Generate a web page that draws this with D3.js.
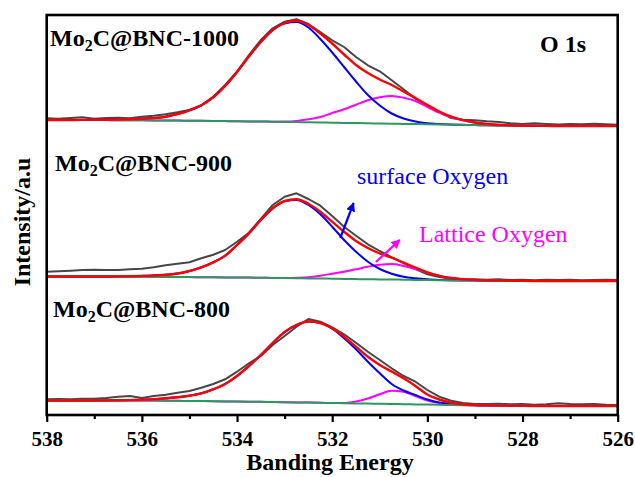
<!DOCTYPE html>
<html>
<head>
<meta charset="utf-8">
<script src="https://cdn.jsdelivr.net/npm/d3@7"></script>
<style>
  html, body { margin: 0; padding: 0; background: #ffffff; }
  svg { display: block; }
  text { font-family: "Liberation Serif", "Times New Roman", serif; }
</style>
</head>
<body>
<svg id="chart" width="635" height="477"></svg>
<script>
// Binding energy grid (eV), shared by every curve
const energy = [538, 537.75, 537.5, 537.25, 537, 536.75, 536.5, 536.25, 536, 535.75, 535.5, 535.25,
  535, 534.75, 534.5, 534.25, 534, 533.75, 533.5, 533.25, 533, 532.75, 532.5, 532.25,
  532, 531.75, 531.5, 531.25, 531, 530.75, 530.5, 530.25, 530, 529.75, 529.5, 529.25,
  529, 528.75, 528.5, 528.25, 528, 527.75, 527.5, 527.25, 527, 526.75, 526.5, 526.25, 526];

// Sample names and their vertical stacking offsets (a.u.)
const samples = ["1000", "900", "800"];
const stackOffsets = [289, 134, 9];

// ---- Mo2C@BNC-1000 ----
const raw1000 = [7.7, 7.3, 8, 8.7, 7.3, 8, 8.3, 7.7, 9.3, 10.3, 11.7, 13.7, 16, 20.7, 29.3, 41, 54.3, 71, 86, 97.7,
  104.3, 106.7, 102, 94, 85.7, 79, 69, 60.7, 54.7, 45.7, 36.7, 27.3, 20.7, 14, 8, 6.3, 5.7, 4.7, 4, 2.7,
  2, 2.7, 2, 1.5, 2, 1.7, 2.3, 1.7, 1.3];
const env1000 = [6, 6, 6, 6.1, 6.2, 6.3, 6.5, 6.8, 7.2, 7.9, 9.3, 12, 15.7, 20.7, 28.7, 40, 54, 69.5, 84, 96,
  103, 105.3, 101, 92.5, 82.5, 71.5, 61, 53, 46.5, 41, 34.5, 28, 21, 14.5, 9.3, 5.8, 3.5, 2, 1.1, 0.6,
  0.3, 0.2, 0.1, 0, 0, 0, 0, 0, 0];
const surf1000 = [6, 6, 6, 6.1, 6.2, 6.3, 6.5, 6.8, 7.2, 7.9, 9.3, 12, 15.7, 20.7, 28.7, 40, 54, 69.5, 84, 96,
  102.5, 104, 98.5, 87, 73.5, 59, 44.5, 31, 20.5, 12.5, 7.5, 4.5, 2.8, 2, 1.5, 1.2, 0.9, 0.7, 0.5, 0.4,
  0.3, 0.2, 0.1, 0, 0, 0, 0, 0, 0];
const latt1000 = [6, 6, 6, 6, 5.9, 5.9, 5.8, 5.8, 5.7, 5.6, 5.5, 5.4, 5.3, 5.2, 5, 4.9, 4.8, 4.6, 4.5, 4.3,
  4.4, 5, 6.7, 9, 13, 16.7, 21.3, 25.7, 28.7, 30, 28.3, 25, 19, 13.3, 8.8, 5.6, 3.3, 2, 1.2, 0.7,
  0.4, 0.2, 0.1, 0, 0, 0, 0, 0, 0];
const bg1000 = [6, 6, 6, 6, 5.9, 5.9, 5.8, 5.8, 5.7, 5.6, 5.5, 5.4, 5.3, 5.2, 5, 4.9, 4.8, 4.6, 4.5, 4.3,
  4.1, 3.9, 3.7, 3.5, 3.3, 3.1, 2.9, 2.7, 2.5, 2.3, 2.1, 1.9, 1.7, 1.5, 1.3, 1.1, 0.9, 0.7, 0.5, 0.4,
  0.3, 0.2, 0.1, 0, 0, 0, 0, 0, 0];

// ---- Mo2C@BNC-900 ----
const raw900 = [9.3, 9.7, 10.3, 11, 11.3, 11, 11, 11.7, 12.3, 13.8, 15.7, 17.3, 18.7, 22.7, 26.3, 31, 39.3, 48.3, 62, 76,
  84.3, 87.7, 82, 75.3, 65, 54.3, 45.3, 36.7, 30, 23.7, 18, 12, 6.7, 4, 2.3, 1.3, 1.7, 1.3, 1.7, 1,
  1.3, 0.7, 1.3, 1, 1.3, 0.7, 1, 1.3, 1];
const env900 = [4.5, 4.5, 4.5, 4.5, 4.5, 4.5, 4.6, 4.8, 5.1, 5.5, 6.2, 7.5, 10, 13.7, 18.7, 25.3, 36, 47.7, 61, 72.7,
  80, 81.8, 77.3, 69.3, 59.3, 49.3, 40, 33, 27.5, 23.3, 18.3, 13.3, 8.7, 5.2, 3, 1.8, 1.1, 0.7, 0.4, 0.2,
  0.1, 0, 0, 0, 0, 0, 0, 0, 0];
const surf900 = [4.5, 4.5, 4.5, 4.5, 4.5, 4.5, 4.6, 4.8, 5.1, 5.5, 6.2, 7.5, 10, 13.7, 18.7, 25.3, 36, 47.7, 61, 72.5,
  79.6, 81, 76, 66.7, 54.3, 41, 29.3, 19.3, 12, 7.3, 4.3, 2.7, 1.7, 1.1, 0.7, 0.5, 0.4, 0.3, 0.2, 0.1,
  0, 0, 0, 0, 0, 0, 0, 0, 0];
const latt900 = [4.5, 4.5, 4.5, 4.5, 4.4, 4.4, 4.4, 4.3, 4.3, 4.2, 4.1, 4, 3.9, 3.8, 3.7, 3.6, 3.5, 3.4, 3.3, 3.1,
  3, 3.2, 3.7, 5.3, 7.3, 9.3, 11.7, 14.3, 16.3, 16.9, 15, 12, 8.3, 5.3, 3, 1.8, 1, 0.6, 0.3, 0.1,
  0, 0, 0, 0, 0, 0, 0, 0, 0];
const bg900 = [4.5, 4.5, 4.5, 4.5, 4.4, 4.4, 4.4, 4.3, 4.3, 4.2, 4.1, 4, 3.9, 3.8, 3.7, 3.6, 3.5, 3.4, 3.3, 3.1,
  3, 2.8, 2.6, 2.5, 2.3, 2.1, 1.9, 1.8, 1.6, 1.5, 1.3, 1.1, 1, 0.8, 0.6, 0.5, 0.4, 0.3, 0.2, 0.1,
  0, 0, 0, 0, 0, 0, 0, 0, 0];

// ---- Mo2C@BNC-800 ----
const raw800 = [6.7, 7, 6.7, 7.3, 7.3, 8, 9.3, 10, 8, 10, 11.3, 13.3, 15, 18.3, 22, 26.7, 34.3, 42.7, 50, 61,
  70, 79.3, 87, 84.3, 78.7, 71.7, 63.3, 54.3, 46, 37.7, 30, 24.3, 16, 9.3, 5.3, 3, 2, 2, 2.3, 1.7,
  2, 1.3, 1.7, 2.7, 2, 1.7, 2, 1.3, 1];
const env800 = [5.5, 5.5, 5.5, 5.5, 5.5, 5.6, 5.7, 5.9, 6.3, 6.8, 7.7, 8.7, 10.3, 12.7, 16.7, 22, 30, 40, 51, 63,
  74, 81, 84.5, 83, 77.7, 69.3, 59.3, 49.3, 41, 34.5, 27.7, 20, 11.5, 6.5, 3.3, 1.8, 1, 0.6, 0.4, 0.2,
  0.1, 0, 0, 0, 0, 0, 0, 0, 0];
const surf800 = [5.5, 5.5, 5.5, 5.5, 5.5, 5.6, 5.7, 5.9, 6.3, 6.8, 7.7, 8.7, 10.3, 12.7, 16.7, 22, 30, 40, 51, 63,
  74, 81, 84.5, 83, 77.3, 67.7, 56.7, 44.3, 32.7, 22, 15.5, 11, 6.5, 3.5, 2, 1.2, 0.8, 0.6, 0.4, 0.3,
  0.2, 0.1, 0, 0, 0, 0, 0, 0, 0];
const latt800 = [5.5, 5.5, 5.5, 5.5, 5.5, 5.5, 5.5, 5.5, 5.5, 5.4, 5.3, 5.2, 5, 4.9, 4.8, 4.6, 4.5, 4.3, 4.2, 4,
  3.8, 3.6, 3.4, 3.2, 3, 3, 4.5, 7.5, 11.8, 15.2, 14.2, 10, 5.5, 3, 1.6, 1, 0.7, 0.5, 0.4, 0.3,
  0.2, 0.1, 0, 0, 0, 0, 0, 0, 0];
const bg800 = [5.5, 5.5, 5.5, 5.5, 5.5, 5.5, 5.5, 5.5, 5.5, 5.4, 5.3, 5.2, 5, 4.9, 4.8, 4.6, 4.5, 4.3, 4.2, 4,
  3.8, 3.6, 3.4, 3.2, 3, 2.8, 2.6, 2.4, 2.2, 2, 1.8, 1.6, 1.4, 1.2, 1, 0.8, 0.7, 0.5, 0.4, 0.3,
  0.2, 0.1, 0.05, 0, 0, 0, 0, 0, 0];

// Axis ticks
const majorTicks = [538, 536, 534, 532, 530, 528, 526];
const minorTicks = [537, 535, 533, 531, 529, 527];

// Annotation arrows: [E start, a.u. start, E tip, a.u. tip]
const surfaceArrow = [531.83, 177, 531.55, 212];
const latticeArrow = [531.08, 153, 530.58, 175];

const spectra = [
  { name: "1000", raw: raw1000, env: env1000, surf: surf1000, latt: latt1000, bg: bg1000 },
  { name: "900",  raw: raw900,  env: env900,  surf: surf900,  latt: latt900,  bg: bg900 },
  { name: "800",  raw: raw800,  env: env800,  surf: surf800,  latt: latt800,  bg: bg800 }
];

const colors = { raw: "#474747", env: "#ff0000", surf: "#0000ff", latt: "#ff00ff", bg: "#2a9a5c" };
const serif = '"Liberation Serif", "Times New Roman", serif';

const svg = d3.select("#chart");
const plot = { left: 46.7, right: 617.7, top: 15, bottom: 415 };

const x = d3.scaleLinear().domain([538, 526]).range([plot.left, plot.right]);
const y = d3.scaleLinear().domain([0, 400]).range([plot.bottom, plot.top]);

const g = svg.append("g");

spectra.forEach((s, i) => {
  const off = stackOffsets[i];
  const mk = (curve) => d3.line()
    .x((d, k) => x(energy[k]))
    .y(d => y(d + off))
    .curve(curve);
  const smooth = mk(d3.curveMonotoneX);
  const jagged = mk(d3.curveLinear);

  // measured spectrum first, then fit components, background, envelope on top
  g.append("path").attr("d", jagged(s.raw)).attr("fill", "none")
    .attr("stroke", colors.raw).attr("stroke-width", 2).attr("stroke-linejoin", "round");
  g.append("path").attr("d", smooth(s.latt)).attr("fill", "none")
    .attr("stroke", colors.latt).attr("stroke-width", 2);
  g.append("path").attr("d", smooth(s.surf)).attr("fill", "none")
    .attr("stroke", colors.surf).attr("stroke-width", 2);
  g.append("path").attr("d", smooth(s.bg)).attr("fill", "none")
    .attr("stroke", colors.bg).attr("stroke-width", 2);
  g.append("path").attr("d", smooth(s.env)).attr("fill", "none")
    .attr("stroke", colors.env).attr("stroke-width", 2.4);
});

// Frame
svg.append("rect")
  .attr("x", plot.left).attr("y", plot.top)
  .attr("width", plot.right - plot.left).attr("height", plot.bottom - plot.top)
  .attr("fill", "none").attr("stroke", "#000").attr("stroke-width", 2.6);

// Bottom axis: major + minor ticks
const axMajor = svg.append("g").attr("transform", `translate(0,${plot.bottom})`)
  .call(d3.axisBottom(x).tickValues(majorTicks).tickSize(7).tickPadding(9).tickFormat(d3.format("d")));
axMajor.select(".domain").remove();
axMajor.selectAll("line").attr("stroke", "#000").attr("stroke-width", 2.2);
axMajor.selectAll("text").attr("font-family", serif)
  .attr("font-size", 21).attr("font-weight", "bold").attr("fill", "#000");

const axMinor = svg.append("g").attr("transform", `translate(0,${plot.bottom})`)
  .call(d3.axisBottom(x).tickValues(minorTicks).tickSize(4).tickFormat(""));
axMinor.select(".domain").remove();
axMinor.selectAll("line").attr("stroke", "#000").attr("stroke-width", 2.2);

// Axis titles
svg.append("text").attr("x", 330).attr("y", 470).attr("text-anchor", "middle")
  .attr("font-size", 24).attr("font-weight", "bold").text("Banding Energy");
svg.append("text").attr("transform", "translate(30,222) rotate(-90)").attr("text-anchor", "middle")
  .attr("font-size", 24).attr("font-weight", "bold").text("Intensity/a.u");

// Sample labels with subscript
const labelPos = [[50, 46], [55, 171], [53, 317]];
samples.forEach((s, i) => {
  const t = svg.append("text").attr("x", labelPos[i][0]).attr("y", labelPos[i][1])
    .attr("font-size", 24).attr("font-weight", "bold");
  t.append("tspan").text("Mo");
  t.append("tspan").attr("font-size", 16).attr("dy", 5).text("2");
  t.append("tspan").attr("dy", -5).text("C@BNC-" + s);
});

svg.append("text").attr("x", 540).attr("y", 52)
  .attr("font-size", 24).attr("font-weight", "bold").text("O 1s");

// Component annotations
svg.append("text").attr("x", 357).attr("y", 184).attr("font-size", 24)
  .attr("fill", colors.surf).text("surface Oxygen");
svg.append("text").attr("x", 419).attr("y", 241.5).attr("font-size", 24)
  .attr("fill", colors.latt).text("Lattice Oxygen");

const defs = svg.append("defs");
[["arrSurf", colors.surf], ["arrLatt", colors.latt]].forEach(([id, c]) => {
  defs.append("marker").attr("id", id).attr("viewBox", "0 0 10 10")
    .attr("refX", 9).attr("refY", 5).attr("markerWidth", 4.2).attr("markerHeight", 4.2)
    .attr("orient", "auto").attr("markerUnits", "strokeWidth")
    .append("path").attr("d", "M0,0 L10,5 L0,10 Z").attr("fill", c);
});

[[surfaceArrow, colors.surf, "arrSurf"], [latticeArrow, colors.latt, "arrLatt"]].forEach(([a, c, id]) => {
  svg.append("line")
    .attr("x1", x(a[0])).attr("y1", y(a[1]))
    .attr("x2", x(a[2])).attr("y2", y(a[3]))
    .attr("stroke", c).attr("stroke-width", 2.2)
    .attr("marker-end", `url(#${id})`);
});
</script>
</body>
</html>
